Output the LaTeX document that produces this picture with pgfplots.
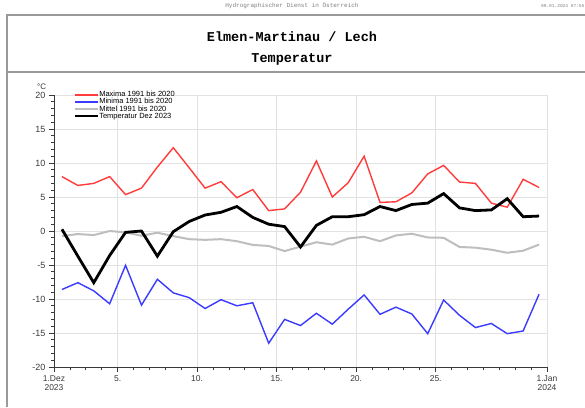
\documentclass[border=0pt]{standalone}
\usepackage{pgfplots}
\usepackage{pgfplotstable}
\pgfplotsset{compat=1.18}
\usepackage{fontspec}
\setmainfont{Liberation Sans}
\newfontfamily\mono{Liberation Mono}
\definecolor{maxred}{HTML}{FF3B3B}
\definecolor{minblue}{HTML}{3B3BFF}
\definecolor{meangray}{HTML}{BEBEBE}
\definecolor{framegray}{HTML}{9A9A9A}
\definecolor{gridgray}{HTML}{E2E2E2}
\definecolor{axisdark}{HTML}{3A3A3A}
\pgfplotstableread{
day max min mean temp
1.5 8.0 -8.6 -0.75 0.25
2.5 6.7 -7.6 -0.45 -3.7
3.5 7.0 -8.8 -0.6 -7.6
4.5 8.0 -10.7 0.0 -3.6
5.5 5.35 -5.05 -0.2 -0.2
6.5 6.3 -10.9 -0.7 0.0
7.5 9.4 -7.1 -0.25 -3.7
8.5 12.25 -9.1 -0.75 -0.1
9.5 9.3 -9.8 -1.2 1.4
10.5 6.3 -11.4 -1.3 2.35
11.5 7.25 -10.1 -1.2 2.75
12.5 4.9 -11.0 -1.5 3.6
13.5 6.1 -10.55 -2.05 2.0
14.5 3.0 -16.5 -2.2 1.0
15.5 3.25 -13.0 -2.95 0.65
16.5 5.7 -13.9 -2.3 -2.35
17.5 10.3 -12.1 -1.65 0.83
18.5 5.0 -13.7 -2.0 2.1
19.5 7.1 -11.5 -1.1 2.1
20.5 11.0 -9.4 -0.85 2.4
21.5 4.2 -12.25 -1.5 3.6
22.5 4.3 -11.2 -0.65 3.0
23.5 5.6 -12.2 -0.4 3.9
24.5 8.4 -15.1 -0.95 4.1
25.5 9.65 -10.15 -1.0 5.5
26.5 7.2 -12.4 -2.35 3.4
27.5 7.0 -14.2 -2.45 3.0
28.5 4.1 -13.6 -2.75 3.1
29.5 3.5 -15.1 -3.2 4.75
30.5 7.6 -14.7 -2.9 2.1
31.5 6.4 -9.3 -2.0 2.2
}\datatable
\begin{document}
\begin{tikzpicture}[x=1pt,y=1pt]
\useasboundingbox[fill=white] (0,0) rectangle (585,407);
% frame
\draw[framegray, line width=1.1pt] (7,0) -- (7,392) -- (600,392);
\draw[framegray, line width=1.1pt] (7,335) -- (600,335);
\node[font=\mono\fontsize{6}{6}\selectfont, text=gray] at (292,401) {Hydrographischer Dienst in Österreich};
\node[font=\mono\fontsize{4.5}{4.5}\selectfont, text=gray, anchor=east, inner sep=0pt] at (584.5,401) {09.01.2024 07:55};
\node[font=\mono\bfseries\fontsize{13.5}{13.5}\selectfont] at (292,370) {Elmen-Martinau / Lech};
\node[font=\mono\bfseries\fontsize{13.5}{13.5}\selectfont] at (292,348) {Temperatur};
\begin{axis}[
  at={(54pt,40pt)}, anchor=south west,
  scale only axis, width=493pt, height=272pt,
  xmin=1, xmax=32, ymin=-20, ymax=20,
  axis x line=bottom, axis y line=left,
  axis line style={-, axisdark, line width=0.8pt},
  xtick={1,5,10,15,20,25,32},
  xticklabels={{1.Dez\\2023},5.,10.,15.,20.,25.,{1.Jan\\2024}},
  xticklabel style={align=center, font=\fontsize{8.5}{9}\selectfont, text=axisdark},
  minor xtick={2,3,4,6,7,8,9,11,12,13,14,16,17,18,19,21,22,23,24,26,27,28,29,30,31},
  ytick={-20,-15,...,20},
  minor ytick={-19,...,19},
  yticklabel style={font=\fontsize{9}{9}\selectfont, text=axisdark},
  /pgf/number format/assume math mode=true,
  tick align=outside,
  major tick length=5pt, minor tick length=3pt,
  every tick/.style={axisdark, line width=0.8pt},
  major grid style={gridgray, line width=0.8pt},
  grid=major,
  clip=false,
  legend style={at={(rel axis cs:0.04,1.017)}, anchor=north west, draw=none, fill=none,
    inner sep=0pt, font=\fontsize{7.5}{7.5}\selectfont, row sep=-0.9pt,
    nodes={inner sep=0.6pt}},
  legend cell align=left,
  legend image code/.code={\draw[#1, line width=2pt] (0cm,0cm) -- (0.8cm,0cm);},
]
\addplot[maxred, line width=1.4pt] table[x=day, y=max] {\datatable};
\addlegendentry{Maxima 1991 bis 2020}
\addplot[minblue, line width=1.4pt] table[x=day, y=min] {\datatable};
\addlegendentry{Minima 1991 bis 2020}
\addplot[meangray, line width=2pt] table[x=day, y=mean] {\datatable};
\addlegendentry{Mittel 1991 bis 2020}
\addplot[black, line width=2.8pt] table[x=day, y=temp] {\datatable};
\addlegendentry{Temperatur Dez 2023}
\node[font=\fontsize{8}{8}\selectfont, text=axisdark] at (rel axis cs:-0.025,1.03) {°C};
\end{axis}
\end{tikzpicture}
\end{document}
